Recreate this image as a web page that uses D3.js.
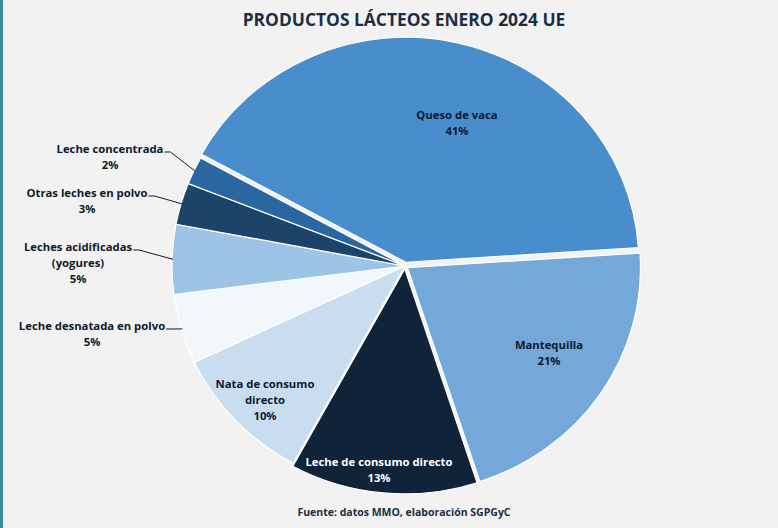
<!DOCTYPE html>
<html><head><meta charset="utf-8">
<script src="https://cdn.jsdelivr.net/npm/d3@7"></script>
<style>html,body{margin:0;padding:0;background:#f2f2f2;} svg{display:block}</style>
</head><body><svg id="c" width="778" height="528"></svg>
<script>
// ---- data ----
const categories = ["Queso de vaca","Mantequilla","Leche de consumo directo","Nata de consumo directo","Leche desnatada en polvo","Leches acidificadas (yogures)","Otras leches en polvo","Leche concentrada"];
const values = [41,21,13,10,5,5,3,2];
const percentLabels = ["41%","21%","13%","10%","5%","5%","3%","2%"];
const labelLines = [["Queso de vaca"],["Mantequilla"],["Leche de consumo directo"],["Nata de consumo","directo"],["Leche desnatada en polvo"],["Leches acidificadas","(yogures)"],["Otras leches en polvo"],["Leche concentrada"]];
const title = "PRODUCTOS LÁCTEOS ENERO 2024 UE";
const source = "Fuente: datos MMO, elaboración SGPGyC";

// ---- style / layout ----
const colors = ["#498dcd","#73a8d9","#0f2339","#c9ddf1","#f2f7fc","#9dc3e6","#1c446b","#2a66a0"];
const explode = [4,3,3,0,0,0,0,0];
const labelPos = [[457,115],[549,345],[379,462],[265,384],[92,326],[78,247],[87,193],[110,149]];
const outside = [false,false,false,false,true,true,true,true];
const textColor = ["#0d1a2b","#0d1a2b","#ffffff","#0d1a2b","#0d1a2b","#0d1a2b","#0d1a2b","#0d1a2b"];
const cx = 405, cy = 266, rx = 233, ry = 225;
const FONT = "'Open Sans', Lato, sans-serif";

const svg = d3.select("#c");
svg.append("rect").attr("width",778).attr("height",528).attr("fill","#f2f2f2");
svg.append("rect").attr("x",0).attr("y",0).attr("width",3).attr("height",528).attr("fill","#3a8d9c");

const startA = -61.3 * Math.PI/180;
const pie = d3.pie().sort(null).startAngle(startA).endAngle(startA + 2*Math.PI);
const arcs = pie(values);
const arc = d3.arc().innerRadius(0).outerRadius(rx);

const g = svg.append("g").attr("transform",`translate(${cx},${cy}) scale(1,${ry/rx})`);
g.selectAll("path").data(arcs).join("path")
  .attr("d", arc)
  .attr("fill",(d,i)=>colors[i])
  .attr("stroke","#ffffff")
  .attr("stroke-width",1.2)
  .attr("vector-effect","non-scaling-stroke")
  .attr("transform",(d,i)=>{
    const m = (d.startAngle+d.endAngle)/2;
    return `translate(${Math.sin(m)*explode[i]},${-Math.cos(m)*explode[i]})`;
  });

// title
svg.append("text").attr("x",404).attr("y",26).attr("text-anchor","middle")
  .attr("font-family",FONT).attr("font-weight","bold").attr("font-size",17.4)
  .attr("fill","#1b2e45").text(title);
svg.append("text").attr("x",404).attr("y",516).attr("text-anchor","middle")
  .attr("font-family",FONT).attr("font-weight","bold").attr("font-size",10.5)
  .attr("fill","#1b2e45").text(source);

// labels
const LH = 16;
arcs.forEach((d,i)=>{
  const lines = labelLines[i].concat([percentLabels[i]]);
  const [lx,ly] = labelPos[i];
  const t = svg.append("text").attr("text-anchor","middle")
    .attr("font-family",FONT).attr("font-weight","bold").attr("font-size",11.3)
    .attr("fill",textColor[i]);
  lines.forEach((s,k)=>{
    t.append("tspan").attr("x",lx).attr("y",ly + 4 + k*LH).text(s);
  });
  if (outside[i]) {
    const first = t.select("tspan").node();
    const w = first.getComputedTextLength();
    const x0 = lx + w/2 + 1, y0 = ly + 3;
    const m = (d.startAngle+d.endAngle)/2;
    const ex = cx + Math.sin(m)*(rx-1), ey = cy - Math.cos(m)*(ry-1);
    svg.append("polyline")
      .attr("points",`${x0},${y0} ${x0+6},${y0} ${ex},${ey}`)
      .attr("fill","none").attr("stroke","#1a1a1a").attr("stroke-width",1);
  }
});
</script></body></html>
